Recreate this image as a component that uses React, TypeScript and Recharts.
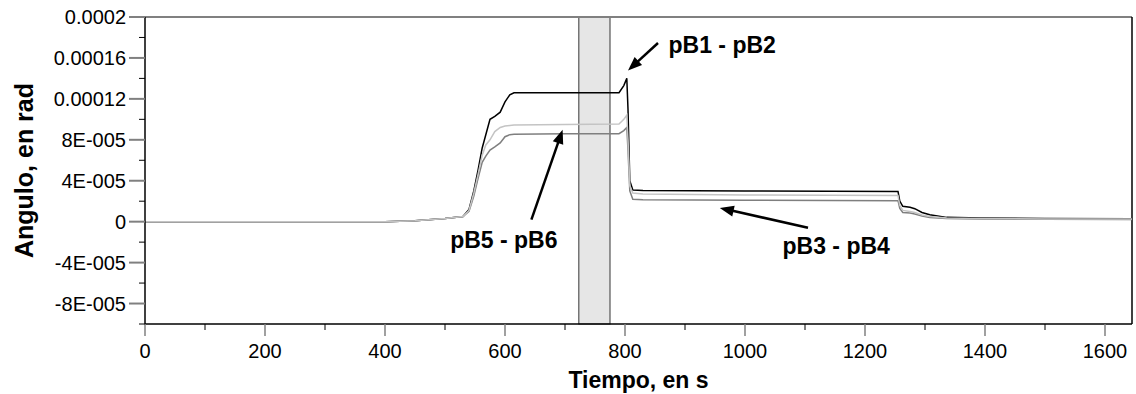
import {
  LineChart,
  Line,
  XAxis,
  YAxis,
  ReferenceArea,
  ReferenceLine,
  ReferenceDot,
} from "recharts";

// tiempo en s
const tiempo = [
  0, 400, 450, 500, 530, 540, 548, 555, 562, 568, 575, 583, 592, 600, 608, 615,
  700, 790, 798, 803, 805, 808, 813, 830, 1000, 1255, 1258, 1263, 1275, 1283,
  1295, 1308, 1336, 1392, 1500, 1645,
];

// angulo en rad (curva negra)
const serieNegra = [
  0, 0, 1e-6, 3e-6, 5e-6, 1.2e-5, 3e-5, 5e-5, 7.2e-5, 8.5e-5, 1.0e-4, 1.03e-4,
  1.07e-4, 1.17e-4, 1.24e-4, 1.26e-4, 1.26e-4, 1.26e-4, 1.33e-4, 1.4e-4, 1.1e-4,
  4e-5, 3.1e-5, 3.05e-5, 3.0e-5, 2.96e-5, 2e-5, 1.5e-5, 1.4e-5, 1.27e-5, 9e-6,
  6.8e-6, 4.2e-6, 3.6e-6, 3.2e-6, 2.9e-6,
];

// curva gris oscuro
const serieGrisOscuro = [
  0, 0, 1e-6, 3e-6, 5e-6, 1e-5, 2.5e-5, 4.2e-5, 5.8e-5, 6.4e-5, 7e-5, 7.3e-5,
  7.7e-5, 8.3e-5, 8.5e-5, 8.55e-5, 8.6e-5, 8.6e-5, 8.9e-5, 9.2e-5, 7e-5, 3e-5,
  2.2e-5, 2.15e-5, 2.1e-5, 2.05e-5, 1.3e-5, 9e-6, 8.5e-6, 7.5e-6, 5.5e-6, 4e-6,
  3e-6, 2.5e-6, 2.3e-6, 2.1e-6,
];

// curva gris claro
const serieGrisClaro = [
  0, 0, 1e-6, 3e-6, 5e-6, 1.1e-5, 2.8e-5, 4.6e-5, 6.5e-5, 7.5e-5, 8.0e-5, 8.8e-5,
  9.2e-5, 9.35e-5, 9.4e-5, 9.45e-5, 9.5e-5, 9.55e-5, 1.0e-4, 1.04e-4, 8e-5,
  3.5e-5, 2.8e-5, 2.7e-5, 2.6e-5, 2.55e-5, 1.6e-5, 1.1e-5, 1e-5, 9e-6, 6.5e-6,
  5e-6, 3.5e-6, 3e-6, 2.7e-6, 2.5e-6,
];

const xMajor = [0, 200, 400, 600, 800, 1000, 1200, 1400, 1600];
const xMinor = [100, 300, 500, 700, 900, 1100, 1300, 1500];
const xLabels = ["0", "200", "400", "600", "800", "1000", "1200", "1400", "1600"];

const yMajor = [-8e-5, -4e-5, 0, 4e-5, 8e-5, 1.2e-4, 1.6e-4, 2e-4];
const yMinor = [-1e-4, -6e-5, -2e-5, 2e-5, 6e-5, 1e-4, 1.4e-4, 1.8e-4];
const yLabels = [
  "-8E-005",
  "-4E-005",
  "0",
  "4E-005",
  "8E-005",
  "0.00012",
  "0.00016",
  "0.0002",
];

// franja sombreada
const franja = [723, 775];

// anotaciones: texto y flecha (cola -> punta), en unidades de datos
const anotaciones = [
  { texto: "pB1 - pB2", tx: 962, ty: 1.727e-4, cola: [855, 1.746e-4], punta: [805, 1.478e-4] },
  { texto: "pB5 - pB6", tx: 598, ty: -1.76e-5, cola: [644, 1.95e-6], punta: [696, 8.98e-5] },
  { texto: "pB3 - pB4", tx: 1152, ty: -2.34e-5, cola: [1105, -5.9e-6], punta: [958, 1.34e-5] },
];

const data = tiempo.map((t, i) => ({
  t,
  negra: serieNegra[i],
  oscuro: serieGrisOscuro[i],
  claro: serieGrisClaro[i],
}));

const FONT = '"Liberation Sans", Arial, sans-serif';

const XTick = (props: any) => {
  const { x, y, payload } = props;
  const i = xMajor.indexOf(payload.value);
  if (i < 0) {
    return <line x1={x} y1={y} x2={x} y2={y + 6} stroke="#000" strokeWidth={1} />;
  }
  return (
    <g>
      <line x1={x} y1={y} x2={x} y2={y + 12} stroke="#808080" strokeWidth={1.5} />
      <text x={x} y={y + 34} textAnchor="middle" fontSize={20} fontFamily={FONT} fill="#000">
        {xLabels[i]}
      </text>
    </g>
  );
};

const YTick = (props: any) => {
  const { x, y, payload } = props;
  const i = yMajor.findIndex((v) => Math.abs(v - payload.value) < 1e-12);
  if (i < 0) {
    return <line x1={x - 6} y1={y} x2={x} y2={y} stroke="#000" strokeWidth={1} />;
  }
  return (
    <g>
      <line x1={x - 16} y1={y} x2={x} y2={y} stroke="#808080" strokeWidth={2} />
      <text x={x - 19} y={y + 7} textAnchor="end" fontSize={20} fontFamily={FONT} fill="#000">
        {yLabels[i]}
      </text>
    </g>
  );
};

const Flecha = (props: any) => {
  const { x1, y1, x2, y2 } = props;
  const dx = x2 - x1;
  const dy = y2 - y1;
  const len = Math.hypot(dx, dy) || 1;
  const ux = dx / len;
  const uy = dy / len;
  const head = 14;
  const half = 5.5;
  const bx = x2 - ux * head;
  const by = y2 - uy * head;
  return (
    <g>
      <line x1={x1} y1={y1} x2={bx + ux * 2} y2={by + uy * 2} stroke="#000" strokeWidth={2.5} />
      <polygon
        points={`${x2},${y2} ${bx - uy * half},${by + ux * half} ${bx + uy * half},${by - ux * half}`}
        fill="#000"
      />
    </g>
  );
};

export default function App() {
  return (
    <div style={{ position: "absolute", left: 0, top: 0, background: "#fff" }}>
      <LineChart
        width={1136}
        height={394}
        data={data}
        margin={{ top: 17, right: 4, left: 0, bottom: 0 }}
      >
        <ReferenceArea
          x1={franja[0]}
          x2={franja[1]}
          fill="#e6e6e6"
          fillOpacity={1}
          stroke="#555"
          strokeWidth={1.2}
        />
        <XAxis
          dataKey="t"
          type="number"
          domain={[0, 1645]}
          allowDataOverflow
          ticks={[...xMajor, ...xMinor].sort((a, b) => a - b)}
          interval={0}
          tickSize={0}
          tickMargin={0}
          tickLine={false}
          tick={<XTick />}
          height={70}
          axisLine={{ stroke: "#000", strokeWidth: 1.5 }}
          label={{
            content: (p: any) => {
              const vb = p.viewBox;
              return (
                <text
                  x={vb.x + vb.width / 2}
                  y={vb.y + 64}
                  textAnchor="middle"
                  fontSize={23}
                  fontWeight="bold"
                  fontFamily={FONT}
                  fill="#000"
                >
                  Tiempo, en s
                </text>
              );
            },
          }}
        />
        <YAxis
          type="number"
          domain={[-1e-4, 2e-4]}
          allowDataOverflow
          ticks={[...yMajor, ...yMinor].sort((a, b) => a - b)}
          interval={0}
          tickSize={0}
          tickMargin={0}
          tickLine={false}
          tick={<YTick />}
          width={145}
          axisLine={{ stroke: "#000", strokeWidth: 1.5 }}
          label={{
            content: (p: any) => {
              const vb = p.viewBox;
              const cx = vb.x + 33;
              const cy = vb.y + vb.height / 2;
              return (
                <text
                  x={cx}
                  y={cy}
                  transform={`rotate(-90 ${cx} ${cy})`}
                  textAnchor="middle"
                  fontSize={25}
                  fontWeight="bold"
                  fontFamily={FONT}
                  fill="#000"
                >
                  Angulo, en rad
                </text>
              );
            },
          }}
        />
        <ReferenceLine y={2e-4} stroke="#808080" strokeWidth={2} />
        <ReferenceLine x={1645} stroke="#000" strokeWidth={1.5} />
        <Line
          type="linear"
          dataKey="negra"
          stroke="#000"
          strokeWidth={1.5}
          dot={false}
          isAnimationActive={false}
        />
        <Line
          type="linear"
          dataKey="oscuro"
          stroke="#7f7f7f"
          strokeWidth={1.5}
          dot={false}
          isAnimationActive={false}
        />
        <Line
          type="linear"
          dataKey="claro"
          stroke="#c4c4c4"
          strokeWidth={1.5}
          dot={false}
          isAnimationActive={false}
        />
        {anotaciones.map((a) => (
          <ReferenceLine
            key={a.texto + "-f"}
            segment={[
              { x: a.cola[0], y: a.cola[1] },
              { x: a.punta[0], y: a.punta[1] },
            ]}
            shape={(p: any) => <Flecha {...p} />}
          />
        ))}
        {anotaciones.map((a) => (
          <ReferenceDot
            key={a.texto}
            x={a.tx}
            y={a.ty}
            r={1}
            fill="none"
            stroke="none"
            label={{
              value: a.texto,
              position: "center",
              fill: "#000",
              fontSize: 23,
              fontWeight: "bold",
              fontFamily: FONT,
            }}
          />
        ))}
      </LineChart>
    </div>
  );
}
